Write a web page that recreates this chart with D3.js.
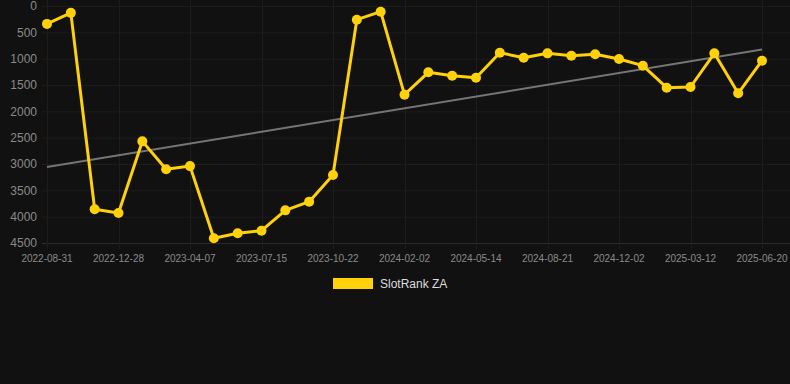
<!DOCTYPE html>
<html>
<head>
<meta charset="utf-8">
<script src="https://cdn.jsdelivr.net/npm/d3@7/dist/d3.min.js"></script>
<style>
  html, body { margin: 0; padding: 0; background: #111111; }
  svg { display: block; font-family: "Liberation Sans", Arial, sans-serif; }
</style>
</head>
<body>
<div id="chart"></div>
<script>
var dates = [
  "2022-08-31", "2022-10-09", "2022-11-18", "2022-12-28", "2023-02-02", "2023-03-05",
  "2023-04-07", "2023-05-10", "2023-06-12", "2023-07-15", "2023-08-17", "2023-09-19",
  "2023-10-22", "2023-11-25", "2023-12-30", "2024-02-02", "2024-03-06", "2024-04-10",
  "2024-05-14", "2024-06-16", "2024-07-19", "2024-08-21", "2024-09-24", "2024-10-29",
  "2024-12-02", "2025-01-04", "2025-02-06", "2025-03-12", "2025-04-14", "2025-05-17",
  "2025-06-20"
];
var ranks = [
  340, 130, 3860, 3930, 2570, 3100,
  3040, 4410, 4316, 4266, 3880, 3715,
  3209, 260, 108, 1684, 1259, 1323,
  1361, 887, 981, 899, 943, 917,
  1006, 1133, 1551, 1538, 899, 1658,
  1038
];
var yTicks = [0, 500, 1000, 1500, 2000, 2500, 3000, 3500, 4000, 4500];
var seriesName = "SlotRank ZA";

var W = 790, H = 384;
var svg = d3.select("#chart").append("svg").attr("width", W).attr("height", H)
svg.append("rect").attr("width", W).attr("height", H).attr("fill", "#111111")

var x = d3.scalePoint().domain(dates).range([47, 762]);
var y = d3.scaleLinear().domain([0, 4500]).range([6, 243]);

// grid
var grid = svg.append("g").attr("class", "grid")
grid.selectAll("line.h").data(yTicks).enter().append("line")
  .attr("x1", 42).attr("x2", W)
  .attr("y1", d => y(d) + 0.5).attr("y2", d => y(d) + 0.5)
  .attr("stroke", d => d == 4500 ? "#2b2b2b" : "#1d1d1d").attr("stroke-width", 1)

var shown = dates.filter((d, i) => i % 3 == 0)
grid.selectAll("line.v").data(shown).enter().append("line")
  .attr("x1", d => Math.round(x(d)) + 0.5).attr("x2", d => Math.round(x(d)) + 0.5)
  .attr("y1", 0).attr("y2", 249)
  .attr("stroke", "#1d1d1d").attr("stroke-width", 1)

// y labels
svg.append("g").selectAll("text").data(yTicks).enter().append("text")
  .attr("x", 37).attr("y", d => y(d)).attr("dy", "0.35em")
  .attr("text-anchor", "end").attr("font-size", 12).attr("fill", "#8a8a8a")
  .text(d => d)

// x labels
svg.append("g").selectAll("text").data(shown).enter().append("text")
  .attr("x", d => x(d)).attr("y", 262)
  .attr("text-anchor", "middle").attr("font-size", 10).attr("fill", "#8a8a8a")
  .text(d => d)

// trend line (least squares over index)
var n = ranks.length, sx = 0, sy = 0, sxy = 0, sxx = 0;
ranks.forEach(function(v, i) { sx += i; sy += v; sxy += i * v; sxx += i * i; });
var slope = (n * sxy - sx * sy) / (n * sxx - sx * sx);
var icpt = (sy - slope * sx) / n;
svg.append("line")
  .attr("x1", x(dates[0])).attr("y1", y(icpt))
  .attr("x2", x(dates[n - 1])).attr("y2", y(icpt + slope * (n - 1)))
  .attr("stroke", "#757575").attr("stroke-width", 2)

// data line
var line = d3.line().x((d, i) => x(dates[i])).y(d => y(d));
svg.append("path").datum(ranks)
  .attr("d", line).attr("fill", "none")
  .attr("stroke", "#FFD10A").attr("stroke-width", 3).attr("stroke-linejoin", "round")

svg.append("g").selectAll("circle").data(ranks).enter().append("circle")
  .attr("cx", (d, i) => x(dates[i])).attr("cy", d => y(d))
  .attr("r", 5).attr("fill", "#FFD10A")

// legend
var lg = svg.append("g")
lg.append("rect").attr("x", 333).attr("y", 278).attr("width", 40).attr("height", 11).attr("fill", "#FFD10A")
lg.append("text").attr("x", 380).attr("y", 284).attr("dy", "0.35em")
  .attr("font-size", 12).attr("fill", "#dddddd").text(seriesName)
</script>
</body>
</html>
